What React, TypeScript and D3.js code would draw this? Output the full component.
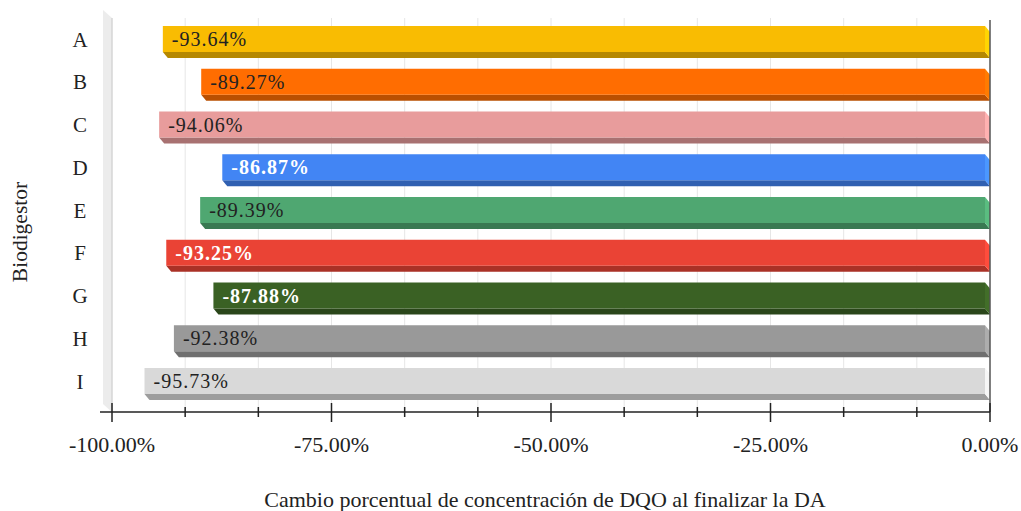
import React from "react";
import * as d3 from "d3";

const categories = ["A", "B", "C", "D", "E", "F", "G", "H", "I"];
const values = [-93.64, -89.27, -94.06, -86.87, -89.39, -93.25, -87.88, -92.38, -95.73];
const colors = ["#F9BC02", "#FF6D01", "#E89C9C", "#4285F4", "#4FA771", "#EA4335", "#3A6124", "#999999", "#D9D9D9"];
const labelColors = ["#222", "#222", "#222", "#fff", "#222", "#fff", "#fff", "#222", "#222"];
const majorTicks = [-100, -75, -50, -25, 0];
const gridTicks = d3.range(0, 13).map((i) => -100 + (i * 100) / 12);
const xTitle = "Cambio porcentual de concentración de DQO al finalizar la DA";
const yTitle = "Biodigestor";

const W = 1021;
const H = 511;
const FONT = "'Liberation Serif', 'Times New Roman', serif";

export default function App() {
  const x = d3.scaleLinear().domain([-100, 0]).range([112, 990]);
  const y = d3.scaleBand<string>().domain(categories).range([18, 402.75]);
  const axisY = 412;
  const dx = 5;
  const dy = 6;
  const fmt = (v: number) => v.toFixed(2) + "%";

  return (
    <svg width={W} height={H} style={{ position: "absolute", left: 0, top: 0, background: "#fff" }}>
      {/* left wall */}
      <polygon points={`103,10 112,18 112,${axisY} 103,${axisY - 8}`} fill="#ececec" />
      <line x1={112} x2={112} y1={18} y2={axisY} stroke="#d6d6d6" strokeWidth={1.5} />
      {/* gridlines */}
      {gridTicks.slice(1, 12).map((t, i) => (
        <line key={i} x1={x(t)} x2={x(t)} y1={18} y2={axisY} stroke="#e6e6e6" strokeWidth={1} />
      ))}
      {/* bars */}
      {values.map((v, i) => {
        const c = colors[i];
        const bandTop = y(categories[i])!;
        const top = bandTop + 8;
        const h = 26;
        const xl = x(v) - dx;
        const xr = x(0) - dx;
        const dark = d3.color(c)!.darker(0.9).formatHex();
        const light = d3.color(c)!.brighter(0.35).formatHex();
        return (
          <g key={categories[i]}>
            <polygon
              points={`${xl},${top + h} ${xr},${top + h} ${xr + dx},${top + h + dy} ${xl + dx},${top + h + dy}`}
              fill={dark}
            />
            <polygon
              points={`${xr},${top} ${xr + dx},${top + dy} ${xr + dx},${top + h + dy} ${xr},${top + h}`}
              fill={light}
            />
            <rect x={xl} y={top} width={xr - xl} height={h} fill={c} />
            <text
              x={xl + 9}
              y={top + h / 2}
              dy="0.35em"
              fontFamily={FONT}
              fontSize={20}
              letterSpacing={1}
              fontWeight={labelColors[i] === "#fff" ? "bold" : "normal"}
              fill={labelColors[i]}
            >
              {fmt(v)}
            </text>
          </g>
        );
      })}
      {/* baseline at 0 */}
      <line x1={990} x2={990} y1={20} y2={axisY} stroke="#555" strokeWidth={1.5} />
      {/* category labels */}
      {categories.map((c) => (
        <text
          key={c}
          x={80}
          y={y(c)! + y.bandwidth() / 2}
          dy="0.35em"
          textAnchor="middle"
          fontFamily={FONT}
          fontSize={21}
          fill="#222"
        >
          {c}
        </text>
      ))}
      {/* x axis */}
      <line x1={100} x2={990} y1={axisY} y2={axisY} stroke="#222" strokeWidth={1.5} />
      {gridTicks.map((t, i) => {
        const major = i % 3 === 0;
        return (
          <line
            key={i}
            x1={x(t)}
            x2={x(t)}
            y1={major ? axisY - 9 : axisY - 5}
            y2={major ? axisY + 10 : axisY + 5}
            stroke="#222"
            strokeWidth={1.5}
          />
        );
      })}
      {majorTicks.map((t) => (
        <text
          key={t}
          x={x(t)}
          y={452}
          textAnchor="middle"
          fontFamily={FONT}
          fontSize={22}
          fill="#222"
        >
          {fmt(t)}
        </text>
      ))}
      <text x={545} y={507} textAnchor="middle" fontFamily={FONT} fontSize={22} fill="#222">
        {xTitle}
      </text>
      <text
        transform={`translate(27,232) rotate(-90)`}
        textAnchor="middle"
        fontFamily={FONT}
        fontSize={21.5}
        fill="#222"
      >
        {yTitle}
      </text>
    </svg>
  );
}
